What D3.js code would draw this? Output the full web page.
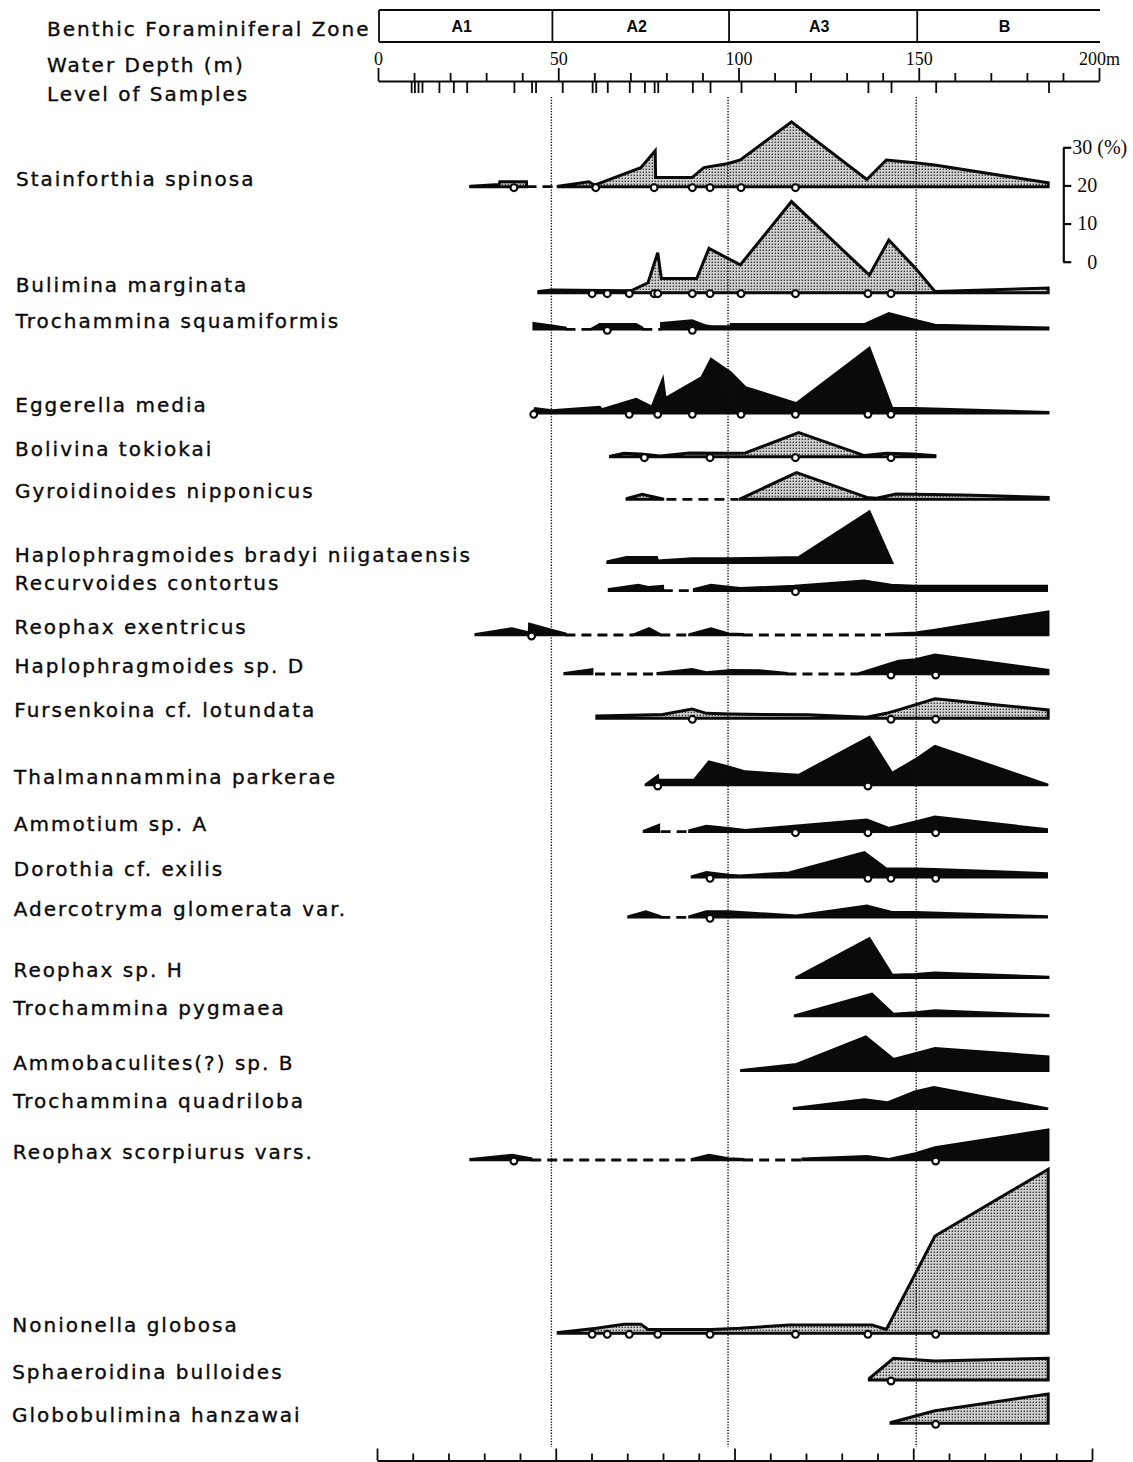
<!DOCTYPE html>
<html>
<head>
<meta charset="utf-8">
<script src="https://cdn.jsdelivr.net/npm/d3@7"></script>
<style>
  body { margin: 0; background: #fff; }
  svg { display: block; }
</style>
</head>
<body>
<script>
// ---------- data: relative abundance (%) of benthic foraminifera vs. water depth (m) ----------

const speciesNames = [
  "Stainforthia spinosa", "Bulimina marginata", "Trochammina squamiformis", "Eggerella media",
  "Bolivina tokiokai", "Gyroidinoides nipponicus", "Haplophragmoides bradyi niigataensis",
  "Recurvoides contortus", "Reophax exentricus", "Haplophragmoides sp. D", "Fursenkoina cf. lotundata",
  "Thalmannammina parkerae", "Ammotium sp. A", "Dorothia cf. exilis", "Adercotryma glomerata var.",
  "Reophax sp. H", "Trochammina pygmaea", "Ammobaculites(?) sp. B", "Trochammina quadriloba",
  "Reophax scorpiurus vars.", "Nonionella globosa", "Sphaeroidina bulloides", "Globobulimina hanzawai"
];

// test wall type: calcareous (stippled) or agglutinated (solid)
const wallType = [
  "calc", "calc", "aggl", "aggl", "calc", "calc", "aggl", "aggl", "aggl", "aggl", "calc",
  "aggl", "aggl", "aggl", "aggl", "aggl", "aggl", "aggl", "aggl", "aggl", "calc", "calc", "calc"
];

// each species: list of continuous segments, each a list of [depth m, abundance %]
const stainforthiaSpinosa = [
  [[25.7,0.1],[33.6,0.6],[33.8,1.3],[41.2,1.3]],
  [[50.0,0.1],[58.5,1.3],[60.1,0.4],[72.9,5.0],[76.9,9.4],[77.0,2.4],[87.1,2.4],[90.4,5.0],[97.2,6.1],
   [100.5,7.0],[114.7,17.0],[135.6,1.9],[141.0,7.0],[149.0,6.3],[154.4,5.7],[185.9,1.0]]
];
const buliminaMarginata = [
  [[44.6,0.3],[48.2,0.7],[70.2,0.5],[74.9,2.6],[77.6,10.5],[78.6,3.7],[88.4,3.7],[91.8,11.6],[100.5,7.3],
   [114.7,23.9],[136.3,4.6],[141.7,13.8],[149.1,6.4],[154.5,0.3],[185.9,1.2]]
];
const trochamminaSquamiformis = [
  [[43.2,1.6],[48.2,0.9],[52.0,0.4]],
  [[59.4,0.2],[61.5,1.3],[71.6,1.3],[73.3,0.4]],
  [[78.6,1.6],[87.1,2.3],[91.1,0.9],[92.5,0.7],[97.8,0.7],[97.9,1.3],[134.9,1.3],[141.7,4.2],[149.1,2.4],
   [154.5,1.1],[185.9,0.4]]
];
const eggerellaMedia = [
  [[43.2,0.3],[43.6,1.3],[48.2,0.7],[61.5,1.6],[62.1,1.0],[71.6,3.7],[76.0,1.7],[79.0,8.9],[79.7,3.9],
   [89.8,9.4],[92.4,14.2],[97.8,10.7],[101.9,6.8],[116.1,2.6],[136.3,17.1],[142.6,1.3],[149.1,1.3],[185.9,0.3]]
];
const bolivinaTokiokai = [
  [[64.5,0.1],[68.2,0.9],[72.9,0.7],[78.3,0.2],[86.4,1.0],[97.8,0.9],[101.9,1.0],[116.7,6.3],[134.9,0.3],
   [141.0,0.9],[148.4,0.7],[154.5,0.3]]
];
const gyroidinoidesNipponicus = [
  [[69.1,0.2],[73.3,1.3],[79.0,0.1]],
  [[100.5,0.1],[116.1,7.0],[135.6,0.5],[138.3,0.3],[143.7,1.4],[162.5,1.1],[185.9,0.5]]
];
const haplophragmoidesBradyi = [
  [[63.7,0.3],[68.9,1.4],[77.3,1.4],[77.6,0.5],[87.1,1.1],[97.8,1.1],[116.7,1.4],[136.3,13.4],[142.6,0.0]]
];
const recurvoidesContortus = [
  [[64.1,0.4],[72.2,1.5],[74.9,0.9],[79.0,1.2]],
  [[87.7,0.4],[92.4,1.5],[97.8,0.9],[100.5,0.6],[115.4,1.2],[134.9,2.6],[142.3,1.5],[149.1,1.2],[185.5,1.2]]
];
const reophaxExentricus = [
  [[27.1,0.2],[37.2,1.7],[41.9,0.6],[42.0,2.9],[47.3,1.5],[52.0,0.3]],
  [[70.9,0.1],[75.2,1.7],[78.3,0.1]],
  [[86.4,0.1],[92.4,1.7],[97.2,0.3],[101.2,0.2]],
  [[141.0,0.2],[149.1,0.6],[154.5,1.3],[185.9,6.1]]
];
const haplophragmoidesSpD = [
  [[51.8,0.2],[59.4,1.2]],
  [[77.6,0.2],[87.1,1.2],[91.1,0.4],[97.8,1.0],[105.9,0.9],[113.3,0.2]],
  [[133.6,0.2],[144.4,3.4],[149.1,3.8],[154.5,5.0],[185.9,1.0]]
];
const fursenkoinaLotundata = [
  [[60.7,0.6],[79.0,1.0],[87.1,2.4],[91.1,1.3],[97.8,1.1],[119.4,0.9],[135.6,0.3],[141.0,1.3],[144.4,2.2],
   [154.5,5.1],[185.9,2.2]]
];
const thalmannamminaParkerae = [
  [[74.3,0.1],[77.6,2.4],[77.7,1.3],[87.7,1.3],[91.8,6.1],[97.2,4.8],[101.9,3.5],[116.7,2.6],[136.3,12.5],
   [142.6,3.1],[149.1,6.7],[154.5,10.2],[185.9,0.0]]
];
const ammotiumSpA = [
  [[73.8,0.2],[77.9,1.7]],
  [[86.4,0.3],[91.1,1.5],[97.2,0.9],[101.9,0.4],[115.4,1.5],[135.6,3.1],[141.7,0.9],[149.1,2.6],[154.5,3.9],
   [185.5,0.6]]
];
const dorothiaExilis = [
  [[87.1,0.2],[91.1,1.3],[97.2,0.6],[100.5,0.4],[114.0,1.2],[134.9,6.5],[141.0,2.2],[149.1,2.2],[154.5,2.1],
   [185.5,1.0]]
];
const adercotrymaGlomerata = [
  [[69.5,0.2],[74.3,1.5],[78.3,0.2]],
  [[86.4,0.2],[91.1,1.5],[97.2,1.5],[116.1,0.4],[135.6,3.0],[142.3,1.4],[149.1,1.3],[185.5,0.2]]
];
const reophaxSpH = [
  [[116.1,0.1],[136.3,10.3],[142.6,0.7],[149.1,0.9],[154.5,1.3],[185.9,0.2]]
];
const trochamminaPygmaea = [
  [[115.7,0.1],[137.0,5.8],[143.0,0.5],[149.1,0.9],[154.5,1.4],[185.9,0.2]]
];
const ammobaculitesSpB = [
  [[100.8,0.1],[116.1,1.7],[135.3,8.9],[143.0,3.0],[149.1,4.5],[154.5,5.9],[185.9,3.7]]
];
const trochamminaQuadriloba = [
  [[115.4,0.1],[134.9,2.4],[141.3,1.6],[149.1,4.5],[154.2,5.6],[185.9,0.0]]
];
const reophaxScorpiurus = [
  [[25.7,0.2],[37.2,1.3],[42.5,0.4]],
  [[87.1,0.2],[91.8,1.3],[97.2,0.4],[101.3,0.2]],
  [[117.8,0.3],[135.6,1.0],[141.7,0.2],[149.1,1.7],[154.5,3.3],[185.9,7.9]]
];
const nonionellaGlobosa = [
  [[50.0,0.2],[60.6,1.3],[68.2,2.4],[72.9,2.4],[74.9,1.0],[92.4,1.0],[100.5,1.3],[114.0,2.2],[137.0,2.2],
   [141.0,1.0],[154.5,25.5],[185.9,43.0]]
];
const sphaeroidinaBulloides = [
  [[136.3,0.4],[143.0,5.7],[154.5,5.0],[185.9,5.7]]
];
const globobuliminaHanzawai = [
  [[142.3,0.2],[154.5,3.3],[185.9,7.7]]
];

const abundance = [
  stainforthiaSpinosa, buliminaMarginata, trochamminaSquamiformis, eggerellaMedia, bolivinaTokiokai,
  gyroidinoidesNipponicus, haplophragmoidesBradyi, recurvoidesContortus, reophaxExentricus,
  haplophragmoidesSpD, fursenkoinaLotundata, thalmannamminaParkerae, ammotiumSpA, dorothiaExilis,
  adercotrymaGlomerata, reophaxSpH, trochamminaPygmaea, ammobaculitesSpB, trochamminaQuadriloba,
  reophaxScorpiurus, nonionellaGlobosa, sphaeroidinaBulloides, globobuliminaHanzawai
];

// depth ranges where the species is sporadic / absent (dashed)
const sporadicRanges = [
  [[41.2,50.0]], [], [[52.0,59.4],[73.3,78.6]], [], [], [[80.0,100.0]], [], [[79.0,87.7]],
  [[52.0,70.9],[78.3,86.4],[101.2,141.0]], [[60.2,77.6],[113.3,133.6]], [], [], [[78.4,86.4]], [],
  [[78.3,86.4]], [], [], [], [], [[42.5,87.1],[101.3,117.8]], [], [], []
];

// sample depths where the species was picked for the specimen record (open circles)
const recordedAt = [
  [37.7,60.4,76.6,87.2,92.1,100.7,115.8],
  [59.4,63.6,69.7,76.6,77.6,87.2,92.1,100.7,115.8,135.9,142.3],
  [63.6,87.2],
  [43.2,69.7,77.6,87.2,100.7,115.8,135.9,142.3],
  [73.9,92.1,115.8,142.3],
  [], [], [115.8], [42.6], [142.3,154.7], [87.2,142.3,154.7],
  [77.6,135.9], [115.8,135.9,154.7], [92.1,135.9,142.3,154.7], [92.1],
  [], [], [], [], [37.7,154.7],
  [59.4,63.6,69.7,77.6,92.1,115.8,135.9,154.7],
  [142.3], [154.7]
];

// water-depth axis, zones and sampling levels
const depthMajor = [0, 50, 100, 150, 200];
const depthTickLabels = ["0", "50", "100", "150", "200m"];
const depthMinor = [10, 20, 30, 40, 60, 70, 80, 90, 110, 120, 130, 140, 160, 170, 180, 190];
const zoneNames = ["A1", "A2", "A3", "B"];
const zoneEdges = [0, 48.1, 97.1, 149.3, 200];
const sampleLevels = [9.2, 10.1, 11.1, 12.2, 16.9, 20.9, 24.6, 37.7, 42.6, 43.7, 51.1, 59.4, 60.4, 63.6,
  69.7, 73.9, 76.6, 77.6, 87.2, 92.1, 100.7, 115.8, 135.9, 142.3, 154.7, 186.0];
const pctMajor = [0, 10, 20, 30];
const pctMinor = [5, 15, 25];

// ---------- layout ----------
const W = 1133, H = 1462;
const rowBaseline = [186.7, 292.7, 329.3, 413.3, 456.7, 499.3, 562.7, 590.7, 635, 674, 718.3, 785,
  831.7, 877.3, 917.3, 977.7, 1016, 1070.7, 1108.7, 1160, 1333.3, 1380, 1423.3];
const PCT_PX = 114.4;          // pixel height of 30 %
const SANS = "'DejaVu Sans', Verdana, sans-serif";
const SERIF = "'Liberation Serif', 'Times New Roman', serif";
const INK = "#0a0a0a";

const svg = d3.select("body").append("svg")
  .attr("width", W).attr("height", H)
  .style("background", "#fff");

const defs = svg.append("defs");
const pat = defs.append("pattern").attr("id", "stipple")
  .attr("patternUnits", "userSpaceOnUse").attr("width", 3).attr("height", 3);
pat.append("rect").attr("width", 3).attr("height", 3).attr("fill", "#d0d0d0");
pat.append("rect").attr("x", 0.6).attr("y", 0.6).attr("width", 1.4).attr("height", 1.4).attr("fill", "#3a3a3a");

const x = d3.scaleLinear().domain([0, 200]).range([378, 1099]);
const xBottom = d3.scaleLinear().domain([0, 200]).range([377, 1092]);
const labelX = d3.scaleLinear().domain([186, 1423]).range([16, 12]);

// ---------- header ----------
const header = svg.append("g").attr("font-family", SANS).attr("font-size", 20)
  .attr("letter-spacing", 2).attr("fill", INK).attr("stroke", INK).attr("stroke-width", 0.35);
header.append("text").attr("x", 47).attr("y", 36).text("Benthic Foraminiferal Zone");
header.append("text").attr("x", 47).attr("y", 72).text("Water Depth (m)");
header.append("text").attr("x", 47).attr("y", 101).text("Level of Samples");

// zone box
const boxTop = 10, boxBot = 42;
const zoneG = svg.append("g").attr("stroke", INK).attr("stroke-width", 1.8);
zoneG.append("line").attr("x1", x(0) + 1).attr("x2", x(200) + 1).attr("y1", boxTop).attr("y2", boxTop);
zoneG.append("line").attr("x1", x(0) + 1).attr("x2", x(200) + 1).attr("y1", boxBot).attr("y2", boxBot);
zoneG.selectAll("line.edge").data(zoneEdges.slice(0, 4)).join("line").attr("class", "edge")
  .attr("x1", d => x(d) + 1).attr("x2", d => x(d) + 1).attr("y1", boxTop).attr("y2", boxBot);
svg.append("g").selectAll("text").data(zoneNames).join("text")
  .attr("x", (d, i) => x((zoneEdges[i] + zoneEdges[i + 1]) / 2) - 3)
  .attr("y", 32).attr("text-anchor", "middle")
  .attr("font-family", "'Liberation Sans', Arial, sans-serif").attr("font-weight", "bold")
  .attr("font-size", 16).attr("fill", INK).text(d => d);

// top depth axis
function styleAxis(g, width) {
  g.selectAll("path.domain").attr("stroke", INK).attr("stroke-width", width);
  g.selectAll(".tick line").attr("stroke", INK).attr("stroke-width", width);
}
const axisY = 81;
const gMinor = svg.append("g").attr("transform", `translate(0,${axisY})`)
  .call(d3.axisTop(x).tickValues(depthMinor).tickSize(8).tickSizeOuter(0).tickFormat(""));
gMinor.call(styleAxis, 1.8);
const gMajor = svg.append("g").attr("transform", `translate(0,${axisY})`)
  .call(d3.axisTop(x).tickValues(depthMajor).tickSize(13).tickSizeOuter(0).tickPadding(3)
    .tickFormat((d, i) => depthTickLabels[i]));
gMajor.call(styleAxis, 1.8);
gMajor.selectAll("text").attr("font-family", SERIF).attr("font-size", 18).attr("fill", INK);
gMajor.select("path.domain").remove();
const gSamples = svg.append("g").attr("transform", `translate(0,${axisY})`)
  .call(d3.axisBottom(x).tickValues(sampleLevels).tickSize(12).tickSizeOuter(0).tickFormat(""));
gSamples.call(styleAxis, 1.8);
gSamples.select("path.domain").remove();

// bottom depth axis
const bottomY = 1460.5;
const gbMinor = svg.append("g").attr("transform", `translate(0,${bottomY})`)
  .call(d3.axisTop(xBottom).tickValues(depthMinor).tickSize(7).tickSizeOuter(0).tickFormat(""));
gbMinor.call(styleAxis, 1.8);
const gbMajor = svg.append("g").attr("transform", `translate(0,${bottomY})`)
  .call(d3.axisTop(xBottom).tickValues(depthMajor).tickSize(12).tickSizeOuter(0).tickFormat(""));
gbMajor.call(styleAxis, 1.8);
gbMajor.select("path.domain").remove();

// percentage scale bar
const pctScale = d3.scaleLinear().domain([0, 30]).range([261.7, 261.7 - PCT_PX]);
const gPct = svg.append("g").attr("transform", "translate(1063.3,0)");
gPct.call(d3.axisRight(pctScale).tickValues(pctMinor).tickSize(4).tickSizeOuter(0).tickFormat(""));
gPct.call(d3.axisRight(pctScale).tickValues(pctMajor).tickSize(8).tickSizeOuter(0).tickPadding(1));
gPct.call(styleAxis, 2.2);
gPct.selectAll("text").attr("font-family", SERIF).attr("font-size", 20).attr("fill", INK)
  .attr("text-anchor", "end").attr("x", d => d === 30 ? 29 : 34);
gPct.append("text").attr("x", 34).attr("y", pctScale(30)).attr("dy", "0.32em")
  .attr("font-family", SERIF).attr("font-size", 20).attr("fill", INK).text("(%)");

// ---------- species rows ----------
const rows = svg.append("g");
speciesNames.forEach((name, i) => {
  const base = rowBaseline[i];
  const y = d3.scaleLinear().domain([0, 30]).range([base, base - PCT_PX]);
  const g = rows.append("g");
  const calc = wallType[i] === "calc";

  g.append("text").attr("x", labelX(base)).attr("y", base - 1)
    .attr("font-family", SANS).attr("font-size", 20).attr("letter-spacing", 2)
    .attr("fill", INK).attr("stroke", INK).attr("stroke-width", 0.35).text(name);

  g.selectAll("line.sporadic").data(sporadicRanges[i]).join("line").attr("class", "sporadic")
    .attr("x1", d => x(d[0])).attr("x2", d => x(d[1])).attr("y1", base).attr("y2", base)
    .attr("stroke", INK).attr("stroke-width", 2.8).attr("stroke-dasharray", "10,6");

  const area = d3.area().x(d => x(d[0])).y0(base).y1(d => y(d[1]));
  g.selectAll("path.seg").data(abundance[i]).join("path").attr("class", "seg")
    .attr("d", area)
    .attr("fill", calc ? "url(#stipple)" : INK)
    .attr("stroke", INK)
    .attr("stroke-width", calc ? 3 : 2.6)
    .attr("stroke-linejoin", "miter");
});

// zone boundaries (dotted)
svg.append("g").selectAll("line").data(zoneEdges.slice(1, 4)).join("line")
  .attr("x1", d => x(d)).attr("x2", d => x(d)).attr("y1", 97).attr("y2", 1447)
  .attr("stroke", "#111").attr("stroke-width", 1.4).attr("stroke-dasharray", "1.3,1.5");

// sample markers on top
speciesNames.forEach((name, i) => {
  const base = rowBaseline[i];
  rows.append("g").selectAll("circle").data(recordedAt[i]).join("circle")
    .attr("cx", d => x(d)).attr("cy", base + 1).attr("r", 3.4)
    .attr("fill", "#fff").attr("stroke", INK).attr("stroke-width", 2.1);
});
</script>
</body>
</html>
